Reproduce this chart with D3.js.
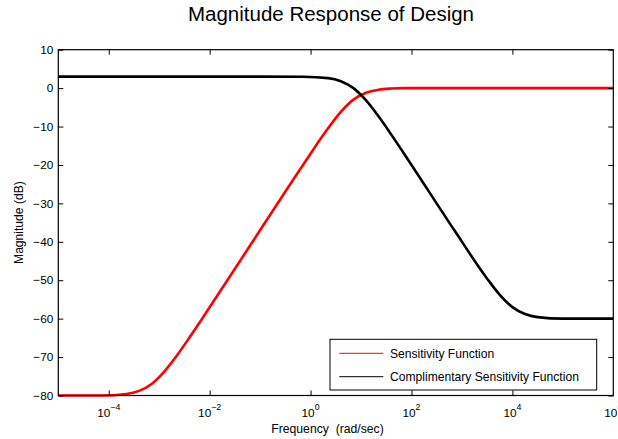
<!DOCTYPE html>
<html>
<head>
<meta charset="utf-8">
<script src="https://cdn.jsdelivr.net/npm/d3@7"></script>
<style>
  html, body { margin: 0; padding: 0; background: #fff; }
  svg { display: block; font-family: "Liberation Sans", Arial, Helvetica, sans-serif; }
</style>
</head>
<body>
<svg id="chart" width="618" height="439"></svg>
<script>
// Sensitivity function S(jw): frequency (rad/sec) and magnitude (dB)
const sensFreq = [1e-5, 7.08e-5, 2.24e-4, 3.98e-4, 7.08e-4, 1.26e-3, 2.24e-3, 3.98e-3, 7.08e-3,
                  0.0708, 0.708, 2.24, 3.98, 7.08, 12.6, 22.4, 39.8, 70.8, 708, 1e6];
const sensMag  = [-80, -80, -79.6, -78.8, -77, -73.8, -69.6, -64.9, -60,
                  -40, -20, -10.4, -6.2, -3, -1.2, -0.4, -0.1, 0, 0, 0];

// Complementary sensitivity function T(jw)
const compFreq = [1e-5, 0.1, 0.708, 2.24, 3.98, 7.08, 12.6, 22.4, 39.8, 70.8,
                  708, 3162, 5623, 1e4, 17783, 31623, 1e5, 1e6];
const compMag  = [3, 3, 2.96, 2.6, 1.8, 0, -3.2, -7.4, -12.1, -17,
                  -37, -49.6, -53.8, -57, -58.8, -59.6, -60, -60];

// Axis ticks
const xTickExps = [-4, -2, 0, 2, 4, 6];
const yTicks = [-80, -70, -60, -50, -40, -30, -20, -10, 0, 10];

const legendLabels = ["Sensitivity Function", "Complimentary Sensitivity Function"];
const seriesColors = ["#ff0000", "#000000"];

const svg = d3.select("#chart");
const L = 58.3, R = 613.3, T = 49.7, B = 395.5;

const x = d3.scaleLog().domain([1e-5, 1e6]).range([L, R]);
const y = d3.scaleLinear().domain([-80, 10]).range([B, T]);

// Title
svg.append("text")
  .attr("x", 331).attr("y", 21)
  .attr("text-anchor", "middle")
  .attr("font-size", 20.5)
  .attr("fill", "#000")
  .text("Magnitude Response of Design");

// Clip for curves
svg.append("defs").append("clipPath").attr("id", "plotclip")
  .append("rect").attr("x", L).attr("y", T - 2).attr("width", R - L).attr("height", B - T + 4);

const line = d3.line()
  .x(d => x(d[0]))
  .y(d => y(d[1]))
  .curve(d3.curveMonotoneX);

const curves = svg.append("g").attr("clip-path", "url(#plotclip)");
curves.append("path")
  .datum(sensFreq.map((f, i) => [f, sensMag[i]]))
  .attr("d", line)
  .attr("fill", "none")
  .attr("stroke", seriesColors[0])
  .attr("stroke-width", 2.6)
  .attr("stroke-linejoin", "round");
curves.append("path")
  .datum(compFreq.map((f, i) => [f, compMag[i]]))
  .attr("d", line)
  .attr("fill", "none")
  .attr("stroke", seriesColors[1])
  .attr("stroke-width", 2.6)
  .attr("stroke-linejoin", "round");

// Axes with inward ticks on all four sides
const xTickVals = xTickExps.filter(e => e < 6).map(e => Math.pow(10, e));
const tickLen = 5;

svg.append("g").attr("transform", `translate(0,${B})`)
  .call(d3.axisBottom(x).tickValues(xTickVals).tickSizeInner(-tickLen).tickSizeOuter(0).tickFormat(""))
  .call(g => g.select(".domain").remove());
svg.append("g").attr("transform", `translate(0,${T})`)
  .call(d3.axisTop(x).tickValues(xTickVals).tickSizeInner(-tickLen).tickSizeOuter(0).tickFormat(""))
  .call(g => g.select(".domain").remove());
svg.append("g").attr("transform", `translate(${L},0)`)
  .call(d3.axisLeft(y).tickValues(yTicks).tickSizeInner(-tickLen).tickSizeOuter(0).tickFormat(""))
  .call(g => g.select(".domain").remove());
svg.append("g").attr("transform", `translate(${R},0)`)
  .call(d3.axisRight(y).tickValues(yTicks).tickSizeInner(-tickLen).tickSizeOuter(0).tickFormat(""))
  .call(g => g.select(".domain").remove());

svg.selectAll(".tick line").attr("stroke", "#000").attr("stroke-width", 1);

// Frame
svg.append("rect")
  .attr("x", L).attr("y", T).attr("width", R - L).attr("height", B - T)
  .attr("fill", "none").attr("stroke", "#000").attr("stroke-width", 1.2);

// Y tick labels
svg.append("g").selectAll("text").data(yTicks).join("text")
  .attr("x", L - 5)
  .attr("y", d => y(d))
  .attr("dy", "0.36em")
  .attr("text-anchor", "end")
  .attr("font-size", 11.8)
  .text(d => d < 0 ? "\u2212" + Math.abs(d) : d);

// X tick labels as powers of ten
const xl = svg.append("g").selectAll("text").data(xTickExps).join("text")
  .attr("x", d => x(Math.pow(10, d)))
  .attr("y", 417)
  .attr("text-anchor", "middle")
  .attr("font-size", 11.8);
xl.append("tspan").text("10");
xl.append("tspan")
  .attr("dy", -7)
  .attr("font-size", 8.8)
  .text(d => d < 0 ? "\u2212" + Math.abs(d) : d);

// Axis labels
svg.append("text")
  .attr("x", 327.5).attr("y", 433)
  .attr("text-anchor", "middle")
  .attr("font-size", 12.2)
  .attr("xml:space", "preserve")
  .text("Frequency  (rad/sec)");

svg.append("text")
  .attr("transform", `translate(22.5,${(T + B) / 2}) rotate(-90)`)
  .attr("text-anchor", "middle")
  .attr("font-size", 12.1)
  .text("Magnitude (dB)");

// Legend
const lg = svg.append("g");
lg.append("rect")
  .attr("x", 330).attr("y", 339.3).attr("width", 266.7).attr("height", 50.7)
  .attr("fill", "#fff").attr("stroke", "#000").attr("stroke-width", 1);
legendLabels.forEach((lab, i) => {
  const ly = 353.3 + i * 23.4;
  lg.append("line")
    .attr("x1", 339.3).attr("x2", 383.3).attr("y1", ly).attr("y2", ly)
    .attr("stroke", seriesColors[i]).attr("stroke-width", 1);
  lg.append("text")
    .attr("x", 390).attr("y", ly).attr("dy", "0.36em")
    .attr("font-size", 12.1)
    .text(lab);
});
</script>
</body>
</html>
